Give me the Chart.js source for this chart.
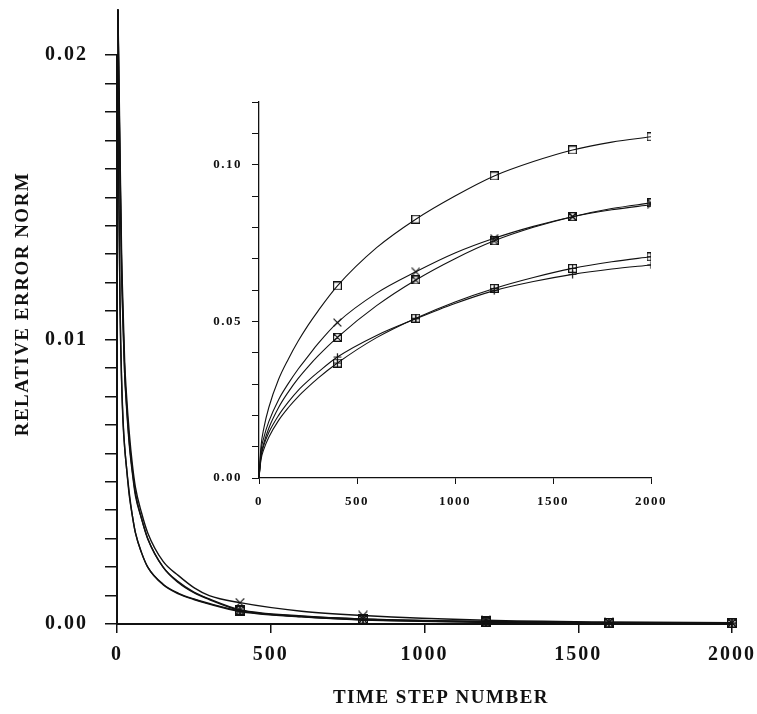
<!DOCTYPE html>
<html>
<head>
<meta charset="utf-8">
<script src="https://cdn.jsdelivr.net/npm/chart.js@4/dist/chart.umd.min.js"></script>
<style>
  html, body { margin: 0; padding: 0; background: #fff; }
  #wrap { position: relative; width: 757px; height: 714px; }
  #mainChart { position: absolute; left: 0; top: 0; }
  #insetChart { position: absolute; left: 190px; top: 90px; }
</style>
</head>
<body>
<div id="wrap">
  <canvas id="mainChart" width="757" height="714"></canvas>
  <canvas id="insetChart" width="500" height="430"></canvas>
</div>
<script>
// main plot: relative error norm against time step
const mainSteps = [3, 6, 10, 15, 20, 25, 30, 40, 50, 60, 80, 100, 150, 200, 250, 300, 400, 600, 800, 1200, 1600, 2000];
const mainSquare = [0.0216, 0.0190, 0.0160, 0.0125, 0.0105, 0.0088, 0.0079, 0.0064, 0.0054, 0.0046, 0.0037, 0.0030, 0.0020, 0.00148, 0.00112, 0.00088, 0.00050, 0.00028, 0.00017, 0.00008, 0.00004, 0.00003];
const mainBoxX = [0.0216, 0.0188, 0.0158, 0.0124, 0.0104, 0.0088, 0.0078, 0.0063, 0.0053, 0.0045, 0.0037, 0.0030, 0.0020, 0.00145, 0.00110, 0.00086, 0.00048, 0.00027, 0.00018, 0.00009, 0.00005, 0.00004];
const mainCross = [0.0216, 0.0195, 0.0165, 0.0130, 0.0110, 0.0092, 0.0082, 0.0067, 0.0056, 0.0048, 0.0039, 0.0032, 0.0022, 0.00170, 0.00128, 0.00100, 0.00075, 0.00045, 0.00030, 0.00013, 0.00007, 0.00005];
const mainBoxPlus = [0.0216, 0.0150, 0.0110, 0.0085, 0.0070, 0.0062, 0.0056, 0.0045, 0.0038, 0.0032, 0.0025, 0.0020, 0.00140, 0.00108, 0.00088, 0.00072, 0.00046, 0.00026, 0.00015, 0.00007, 0.00004, 0.00003];
const mainPlus = [0.0216, 0.0152, 0.0112, 0.0086, 0.0071, 0.0062, 0.0056, 0.0046, 0.0038, 0.0032, 0.0025, 0.0020, 0.00138, 0.00106, 0.00086, 0.00070, 0.00044, 0.00025, 0.00014, 0.00006, 0.00003, 0.00002];

// inset plot
const insetSteps = [0, 10, 25, 50, 100, 150, 200, 250, 300, 400, 600, 800, 1000, 1200, 1400, 1600, 1800, 2000];
const insetSquare = [0, 0.0100, 0.0160, 0.0225, 0.0315, 0.0380, 0.0437, 0.0487, 0.0532, 0.0613, 0.0735, 0.0826, 0.0900, 0.0964, 0.1010, 0.1047, 0.1072, 0.1089];
const insetCross = [0, 0.0085, 0.0130, 0.0180, 0.0250, 0.0302, 0.0348, 0.0388, 0.0428, 0.0496, 0.0590, 0.0658, 0.0718, 0.0765, 0.0803, 0.0834, 0.0856, 0.0872];
const insetBoxX = [0, 0.0071, 0.0112, 0.0159, 0.0225, 0.0275, 0.0318, 0.0355, 0.0389, 0.0449, 0.0550, 0.0632, 0.0700, 0.0757, 0.0800, 0.0834, 0.0860, 0.0878];
const insetPlus = [0, 0.0065, 0.0105, 0.0145, 0.0200, 0.0243, 0.0280, 0.0310, 0.0337, 0.0386, 0.0455, 0.0508, 0.0557, 0.0598, 0.0627, 0.0650, 0.0667, 0.0680];
const insetBoxPlus = [0, 0.0058, 0.0092, 0.0130, 0.0184, 0.0225, 0.0260, 0.0290, 0.0318, 0.0367, 0.0448, 0.0510, 0.0562, 0.0605, 0.0640, 0.0669, 0.0690, 0.0706];

// steps where a marker is drawn
const markerSteps = [400, 800, 1200, 1600, 2000];
const xTitle = 'TIME STEP NUMBER';
const yTitle = 'RELATIVE ERROR NORM';

const INK = '#111';
const SERIF = '"Liberation Serif", "DejaVu Serif", serif';

// kinds: box, cross (x), boxcross, boxplus, plus
function marker(kind, size, lw) {
    const c = document.createElement('canvas');
    c.width = size;
    c.height = size;
    const g = c.getContext('2d');
    g.strokeStyle = INK;
    g.lineWidth = lw;
    const a = lw / 2, b = size - lw / 2, m = size / 2;
    g.beginPath();
    if (kind.indexOf('box') >= 0) g.rect(a, a, b - a, b - a);
    if (kind.indexOf('cross') >= 0) { g.moveTo(a, a); g.lineTo(b, b); g.moveTo(b, a); g.lineTo(a, b); }
    if (kind.indexOf('plus') >= 0) { g.moveTo(m, a); g.lineTo(m, b); g.moveTo(a, m); g.lineTo(b, m); }
    g.stroke();
    return c;
}

function series(steps, values, kind, size, lw, clip) {
    return {
        data: steps.map((s, i) => ({x: s, y: values[i]})),
        borderColor: INK,
        borderWidth: lw,
        fill: false,
        clip: clip,
        cubicInterpolationMode: 'monotone',
        pointStyle: marker(kind, size, 1.2),
        pointRadius: ctx => (ctx.raw && markerSteps.includes(ctx.raw.x)) ? 4 : 0,
        pointHoverRadius: 0
    };
}

const spacing = px => ({
    id: 'spacing',
    beforeDraw(chart) { chart.ctx.letterSpacing = px; }
});

const titles = {
    id: 'titles',
    afterDraw(chart) {
        const ctx = chart.ctx;
        ctx.save();
        ctx.font = 'bold 19px ' + SERIF;
        ctx.letterSpacing = '1.5px';
        ctx.fillStyle = INK;
        ctx.textAlign = 'center';
        ctx.textBaseline = 'middle';
        ctx.fillText(xTitle, 441, 698);
        ctx.translate(23, 304);
        ctx.rotate(-Math.PI / 2);
        ctx.fillText(yTitle, 0, 0);
        ctx.restore();
    }
};

new Chart('mainChart', {
    type: 'line',
    data: {
        datasets: [
            series(mainSteps, mainBoxPlus, 'boxplus', 10, 1.4, false),
            series(mainSteps, mainPlus, 'plus', 10, 1.4, false),
            series(mainSteps, mainSquare, 'box', 10, 1.4, false),
            series(mainSteps, mainBoxX, 'boxcross', 10, 1.4, false),
            series(mainSteps, mainCross, 'cross', 10, 1.4, false)
        ]
    },
    options: {
        responsive: false,
        animation: false,
        events: [],
        layout: { padding: { left: 0, right: 25, top: 55, bottom: 0 } },
        plugins: { legend: { display: false }, tooltip: { enabled: false } },
        scales: {
            x: {
                type: 'linear', min: 0, max: 2000,
                afterFit(s) { s.height = 90; s.paddingLeft = 0; s.paddingRight = 0; },
                border: { color: INK, width: 2 },
                grid: { drawOnChartArea: false, tickLength: 9, color: INK, lineWidth: 1.5 },
                ticks: {
                    stepSize: 500, padding: 10, color: INK, maxRotation: 0, autoSkip: false,
                    font: { family: SERIF, size: 20, weight: 'bold' },
                    callback: v => String(v)
                }
            },
            y: {
                min: 0, max: 0.02,
                afterFit(s) { s.width = 117; s.paddingTop = 0; s.paddingBottom = 0; },
                border: { color: INK, width: 2 },
                grid: { drawOnChartArea: false, tickLength: 12, color: INK, lineWidth: 1.5 },
                ticks: {
                    stepSize: 0.001, maxTicksLimit: 100, autoSkip: false, padding: 17, color: INK,
                    font: { family: SERIF, size: 20, weight: 'bold' },
                    callback: v => Math.abs(v * 100 - Math.round(v * 100)) < 1e-6 ? v.toFixed(2) : ''
                }
            }
        }
    },
    plugins: [spacing('2px'), titles]
});

new Chart('insetChart', {
    type: 'line',
    data: {
        datasets: [
            series(insetSteps, insetBoxPlus, 'boxplus', 9, 1.1, true),
            series(insetSteps, insetPlus, 'plus', 9, 1.1, true),
            series(insetSteps, insetBoxX, 'boxcross', 9, 1.1, true),
            series(insetSteps, insetCross, 'cross', 9, 1.1, true),
            series(insetSteps, insetSquare, 'box', 9, 1.1, true)
        ]
    },
    options: {
        responsive: false,
        animation: false,
        events: [],
        layout: { padding: { left: 0, right: 39, top: 12, bottom: 0 } },
        plugins: { legend: { display: false }, tooltip: { enabled: false } },
        scales: {
            x: {
                type: 'linear', min: 0, max: 2000,
                afterFit(s) { s.height = 42; s.paddingLeft = 0; s.paddingRight = 0; },
                border: { color: INK, width: 1.3 },
                grid: { drawOnChartArea: false, tickLength: 6, color: INK, lineWidth: 1 },
                ticks: {
                    stepSize: 500, padding: 10, color: INK, maxRotation: 0, autoSkip: false,
                    font: { family: SERIF, size: 13, weight: 'bold' },
                    callback: v => String(v)
                }
            },
            y: {
                min: 0, max: 0.12,
                afterFit(s) { s.width = 69; s.paddingTop = 0; s.paddingBottom = 0; },
                border: { color: INK, width: 1.3 },
                grid: { drawOnChartArea: false, tickLength: 7, color: INK, lineWidth: 1 },
                ticks: {
                    stepSize: 0.01, maxTicksLimit: 100, autoSkip: false, padding: 10, color: INK,
                    font: { family: SERIF, size: 13, weight: 'bold' },
                    callback: v => Math.abs(v * 20 - Math.round(v * 20)) < 1e-6 ? v.toFixed(2) : ''
                }
            }
        }
    },
    plugins: [spacing('1.5px')]
});
</script>
</body>
</html>
